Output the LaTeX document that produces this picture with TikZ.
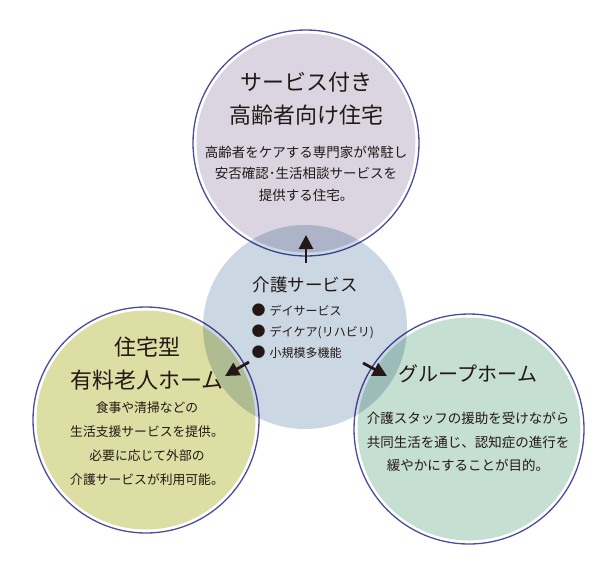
\documentclass[tikz,border=0pt]{standalone}
\usepackage{fontspec}
\setmainfont{Noto Sans CJK JP}
\usetikzlibrary{arrows.meta}
\definecolor{ringblue}{HTML}{4B4C9E}
\definecolor{inkblack}{HTML}{231815}
\definecolor{topfill}{HTML}{DAD5E1}
\definecolor{leftfill}{HTML}{DDDEA3}
\definecolor{rightfill}{HTML}{C5DFD2}
\definecolor{hubfill}{HTML}{CBD8E3}
\newcommand{\dotmark}{{\fontsize{14}{14}\selectfont ●}\hspace{0.35em}}

\begin{document}
\begin{tikzpicture}[x=1pt, y=-1pt,
    outring/.style={circle, draw=ringblue, line width=1.3pt, fill=white,
      minimum size=#1, inner sep=0pt},
    hub/.style={circle, fill=hubfill, blend mode=multiply,
      minimum size=204pt, inner sep=0pt},
    title/.style={text=inkblack, align=center, font=\fontsize{22}{33}\selectfont},
    body/.style={text=inkblack, align=center, font=\fontsize{13.5}{21.5}\selectfont},
    pointer/.style={-{Triangle[length=14pt, width=14pt]}, line width=2.8pt, inkblack}]
  \useasboundingbox (0,0) rectangle (610,560);
  % outer circles
  \node[outring=226pt] (svc) at (306,143) {};
  \fill[topfill] (svc.center) circle[radius=109.5pt];
  \node[outring=226pt] (home) at (146,420) {};
  \fill[leftfill] (home.center) circle[radius=109.5pt];
  \node[outring=230pt] (group) at (469,429) {};
  \fill[rightfill] (group.center) circle[radius=111.5pt];
  % center circle
  \node[hub] (care) at (305,327) {};

  % texts
  \node[title] (svctitle) at (306,98.5) {サービス付き\\高齢者向け住宅};
  \node[body] (svcbody) at (306,173.5) {高齢者をケアする専門家が常駐し\\安否確認･生活相談サービスを\\提供する住宅。};
  \node[title, font=\fontsize{17.5}{20}\selectfont] (caretitle) at (305,285) {介護サービス};
  \node[body, align=left, anchor=west, font=\fontsize{12}{21}\selectfont] (carelist) at (248,331)
    {\dotmark デイサービス\\\dotmark デイケア(リハビリ)\\\dotmark 小規模多機能};
  \node[title] (hometitle) at (147,364) {住宅型\\有料老人ホーム};
  \node[body, font=\fontsize{12.8}{24}\selectfont] (homebody) at (147,444) {食事や清掃などの\\生活支援サービスを提供。\\必要に応じて外部の\\介護サービスが利用可能。};
  \node[title, font=\fontsize{20}{24}\selectfont] (grouptitle) at (468,374) {グループホーム};
  \node[body, font=\fontsize{13.5}{23.5}\selectfont] (groupbody) at (468,442) {介護スタッフの援助を受けながら\\共同生活を通じ、認知症の進行を\\緩やかにすることが目的。};

  % arrows
  \coordinate (uptail) at (306,263);
  \coordinate (uphead) at (306,235);
  \coordinate (lefttail) at (249,362);
  \coordinate (lefthead) at (225,376);
  \coordinate (righttail) at (363,363);
  \coordinate (righthead) at (387,376);
  \draw[pointer] (uptail) -- (uphead);
  \draw[pointer] (lefttail) -- (lefthead);
  \draw[pointer] (righttail) -- (righthead);
\end{tikzpicture}
\end{document}
